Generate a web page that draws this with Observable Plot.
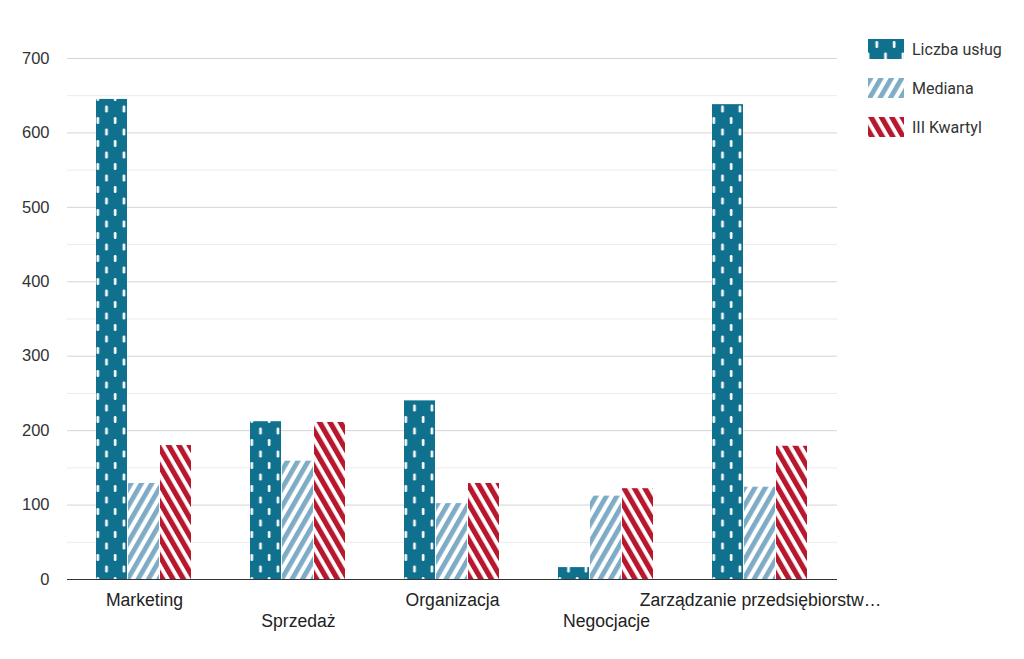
<!DOCTYPE html>
<html>
<head>
<meta charset="utf-8">
<script src="https://cdn.jsdelivr.net/npm/d3@7"></script>
<script src="https://cdn.jsdelivr.net/npm/@observablehq/plot@0.6"></script>
<style>
  html, body { margin: 0; padding: 0; background: #fff; }
  #wrap { position: relative; width: 1024px; height: 659px; overflow: hidden; }
  #wrap svg { display: block; }
  #legend { position: absolute; left: 868px; top: 39px; font-family: Roboto, sans-serif; font-size: 16px; color: #333; }
  .item { display: flex; align-items: center; height: 20px; margin-bottom: 19px; }
  .item svg { margin-right: 8px; }
</style>
</head>
<body>
<div id="wrap"><div id="legend"></div></div>
<script>
const categories = ["Marketing", "Sprzedaż", "Organizacja", "Negocjacje", "Zarządzanie przedsiębiorstwem"];
const series = ["Liczba usług", "Mediana", "III Kwartyl"];
const liczbaUslug = [645, 212, 240, 16, 638];
const mediana = [129, 159, 102, 112, 124];
const trzeciKwartyl = [180, 211, 129, 122, 179];
const yTicks = [0, 100, 200, 300, 400, 500, 600, 700];
const yMinorTicks = [50, 150, 250, 350, 450, 550, 650];

const patternIds = ["pat-liczba", "pat-mediana", "pat-kwartyl"];
const seriesValues = [liczbaUslug, mediana, trzeciKwartyl];

const rows = [];
categories.forEach((c, i) => {
  series.forEach((s, j) => rows.push({category: c, series: s, value: seriesValues[j][i]}));
});

const truncate = (d) => d.length > 27 ? d.slice(0, 27) + "…" : d;
const axisFont = "'Liberation Sans', Arial, sans-serif";

const chart = Plot.plot({
  width: 1024,
  height: 659,
  marginLeft: 65,
  marginRight: 186,
  marginTop: 58,
  marginBottom: 80,
  style: {fontFamily: axisFont, fontSize: "16px", color: "#333", background: "#fff"},
  fx: {domain: categories, padding: 0, label: null, axis: null},
  x: {domain: series, paddingInner: 0.02, paddingOuter: 0.88, axis: null},
  y: {domain: [0, 700], axis: null},
  color: {domain: series, range: patternIds.map(id => `url(#${id})`)},
  marks: [
    Plot.ruleY(yMinorTicks, {stroke: "#ebebeb"}),
    Plot.ruleY(yTicks.filter(d => d > 0), {stroke: "#d4d4d4"}),
    Plot.barY(rows, {fx: "category", x: "series", y: "value", fill: "series"}),
    Plot.ruleY([0], {stroke: "#333", strokeWidth: 1.2}),
    Plot.axisY({ticks: yTicks, tickSize: 0, tickPadding: 18, label: null, fill: "#333", fontSize: 16.5}),
    Plot.axisFx({anchor: "bottom", ticks: categories.filter((d, i) => i % 2 === 0), tickSize: 0, tickPadding: 14, label: null, tickFormat: truncate, fill: "#222", fontSize: 17.6}),
    Plot.axisFx({anchor: "bottom", ticks: categories.filter((d, i) => i % 2 === 1), tickSize: 0, tickPadding: 35, label: null, tickFormat: truncate, fill: "#222", fontSize: 17.6})
  ]
});

const defs = d3.select(chart).insert("defs", ":first-child");
// Liczba usług: teal with white dashes
const p1 = defs.append("pattern").attr("id", patternIds[0]).attr("patternUnits", "userSpaceOnUse")
  .attr("width", 17.4).attr("height", 23);
p1.append("rect").attr("width", 17.4).attr("height", 23).attr("fill", "#10718f");
p1.append("rect").attr("x", 7.5).attr("y", 2).attr("width", 2.6).attr("height", 7).attr("rx", 1.2).attr("fill", "#fff");
p1.append("rect").attr("x", 16.2).attr("y", 13.5).attr("width", 2.6).attr("height", 7).attr("rx", 1.2).attr("fill", "#fff");
p1.append("rect").attr("x", -1.2).attr("y", 13.5).attr("width", 2.6).attr("height", 7).attr("rx", 1.2).attr("fill", "#fff");
// Mediana: light blue "/" stripes
const p2 = defs.append("pattern").attr("id", patternIds[1]).attr("patternUnits", "userSpaceOnUse")
  .attr("width", 9).attr("height", 9).attr("patternTransform", "rotate(30)");
p2.append("rect").attr("width", 9).attr("height", 9).attr("fill", "#fff");
p2.append("rect").attr("width", 4.8).attr("height", 9).attr("fill", "#7eabc5");
// III Kwartyl: red "\" stripes
const p3 = defs.append("pattern").attr("id", patternIds[2]).attr("patternUnits", "userSpaceOnUse")
  .attr("width", 9).attr("height", 9).attr("patternTransform", "rotate(-30)");
p3.append("rect").attr("width", 9).attr("height", 9).attr("fill", "#fff");
p3.append("rect").attr("width", 5.2).attr("height", 9).attr("fill", "#b8182e");

document.getElementById("wrap").prepend(chart);

const legend = d3.select("#legend");
series.forEach((s, j) => {
  const it = legend.append("div").attr("class", "item");
  it.append("svg").attr("width", 36).attr("height", 20)
    .append("rect").attr("width", 36).attr("height", 20).attr("fill", `url(#${patternIds[j]})`);
  it.append("span").text(s);
});
</script>
</body>
</html>
